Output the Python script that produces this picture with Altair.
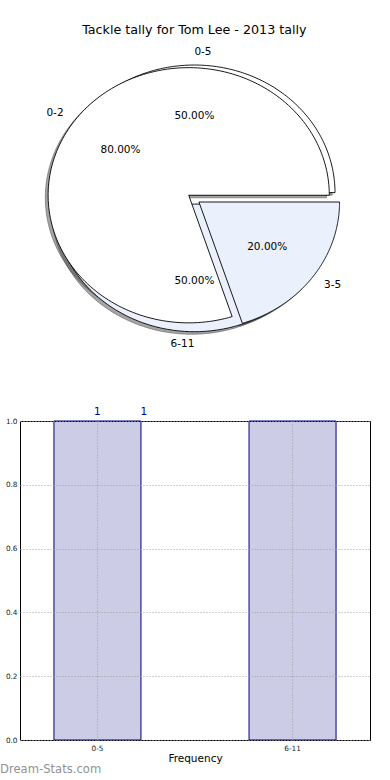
import altair as alt
import pandas as pd

# ---------------- data ----------------
title_text = "Tackle tally for Tom Lee - 2013 tally"
back_labels = ["0-5", "6-11"]
back_values = [1, 1]
front_labels = ["0-2", "3-5"]
front_values = [4, 1]
bar_categories = ["0-5", "6-11"]
bar_values = [1, 1]
y_ticks = [0.0, 0.2, 0.4, 0.6, 0.8, 1.0]
x_title = "Frequency"
watermark = "Dream-Stats.com"

# ---------------- styles ----------------
FONT = "DejaVu Sans"
tones = ["first", "second"]
slice_colors = ["#ffffff", "#eaf0fc"]
back_explode = [0.05, 0.04]
front_explode = [0.05, 0.04]
N = 180  # points along each wedge arc

# page geometry (pixels)
OX, OY = 20, 421          # plot-area origin of the bar chart
CX, CY = 194.4, 199.0     # pie centre
RX, RY = 140.6, 127.6     # pie radii (matplotlib non-equal aspect -> ellipse)

rows = []
for i, (l, v, e) in enumerate(zip(back_labels, back_values, back_explode)):
    rows.append(dict(pie=0, idx=i, label=l, value=v, explode=e, tone=tones[i]))
for i, (l, v, e) in enumerate(zip(front_labels, front_values, front_explode)):
    rows.append(dict(pie=1, idx=i, label=l, value=v, explode=e, tone=tones[i]))
pie_df = pd.DataFrame(rows)

xs = alt.Scale(domain=[-1, 1], range=[CX - RX - OX, CX + RX - OX], nice=False, zero=False)
ys = alt.Scale(domain=[-1, 1], range=[CY + RY - OY, CY - RY - OY], nice=False, zero=False)

base = (
    alt.Chart(pie_df)
    .transform_joinaggregate(total="sum(value)", groupby=["pie"])
    .transform_window(cum="sum(value)", groupby=["pie"], sort=[alt.SortField("idx")], frame=[None, 0])
    .transform_calculate(a0="2*PI*(datum.cum - datum.value)/datum.total")
    .transform_calculate(a1="2*PI*datum.cum/datum.total")
    .transform_calculate(mid="(datum.a0 + datum.a1)/2")
    .transform_calculate(ux="cos(datum.mid)", uy="sin(datum.mid)")
)


def wedge_points(chart, off):
    return (
        chart.transform_calculate(k=f"sequence(0, {N + 2})")
        .transform_flatten(["k"])
        .transform_calculate(t=f"datum.a0 + (datum.a1 - datum.a0) * (datum.k - 1) / {N}")
        .transform_calculate(
            px=f"datum.explode*datum.ux + (datum.k == 0 ? 0 : cos(datum.t)) + ({off})",
            py=f"datum.explode*datum.uy + (datum.k == 0 ? 0 : sin(datum.t)) + ({off})",
        )
    )


fill_enc = alt.Fill("tone:N", scale=alt.Scale(domain=tones, range=slice_colors), legend=None)

shadow = wedge_points(base, -0.02).mark_line(
    interpolate="linear-closed", fill="#4c4c4c", fillOpacity=0.5,
    stroke="#4c4c4c", strokeOpacity=0.5, strokeWidth=1,
).encode(
    x=alt.X("px:Q", scale=xs, axis=None),
    y=alt.Y("py:Q", scale=ys, axis=None),
    order="k:Q",
    detail="label:N",
)


def pie_layer(p):
    return wedge_points(base.transform_filter(f"datum.pie == {p}"), 0).mark_line(
        interpolate="linear-closed", stroke="black", strokeWidth=0.9,
    ).encode(
        x=alt.X("px:Q", scale=xs, axis=None),
        y=alt.Y("py:Q", scale=ys, axis=None),
        order="k:Q",
        detail="label:N",
        fill=fill_enc,
    )


back = pie_layer(0)
front = pie_layer(1)

lab = base.transform_calculate(
    lx="(datum.explode + 1.1) * datum.ux",
    ly="(datum.explode + 1.1) * datum.uy",
    qx="(datum.explode + 0.6) * datum.ux",
    qy="(datum.explode + 0.6) * datum.uy",
    pct="format(100*datum.value/datum.total, '.2f') + '%'",
)
txt = dict(font=FONT, fontSize=10.5, color="black", baseline="middle")
lab_left = lab.transform_filter("datum.ux > 0").mark_text(align="left", **txt).encode(
    x=alt.X("lx:Q", scale=xs, axis=None), y=alt.Y("ly:Q", scale=ys, axis=None), text="label:N")
lab_right = lab.transform_filter("datum.ux <= 0").mark_text(align="right", **txt).encode(
    x=alt.X("lx:Q", scale=xs, axis=None), y=alt.Y("ly:Q", scale=ys, axis=None), text="label:N")
lab_pct = lab.mark_text(align="center", **txt).encode(
    x=alt.X("qx:Q", scale=xs, axis=None), y=alt.Y("qy:Q", scale=ys, axis=None), text="pct:N")

pie_group = alt.layer(shadow, back, front, lab_left, lab_right, lab_pct)

# ---------------- bar chart ----------------
bar_df = pd.DataFrame({"cat": bar_categories, "freq": bar_values})

grid = dict(grid=True, gridColor="#a0a0a0", gridDash=[1, 2], gridWidth=1, zindex=1)
x_axis = alt.Axis(
    title=x_title, orient="bottom", labelFont=FONT, labelFontSize=7.3, labelColor="#222222",
    labelAngle=0, labelPadding=4, ticks=False, domain=False, titleFont=FONT,
    titleFontSize=10.5, titleFontWeight="normal", titleColor="black", titlePadding=2,
    bandPosition=0.5, **grid,
)
y_axis = alt.Axis(
    title=None, orient="left", values=y_ticks, format=".1f", labelFont=FONT, labelFontSize=7.3,
    labelColor="#222222", labelPadding=3, ticks=False, domain=False, labelFlush=False,
    labelOverlap=False, **grid,
)
xb_scale = alt.Scale(domain=bar_categories, paddingInner=0.554, paddingOuter=0.174)
yb_scale = alt.Scale(domain=[0, 1], nice=False, zero=True)

bars = alt.Chart(bar_df).mark_bar(
    fill="#000080", fillOpacity=0.2, stroke="#000080", strokeWidth=1
).encode(
    x=alt.X("cat:N", scale=xb_scale, axis=x_axis),
    y=alt.Y("freq:Q", scale=yb_scale, axis=y_axis),
)

btxt = dict(font=FONT, fontSize=10.5, color="#000080", baseline="middle", align="center", dy=-9)
bar_lab1 = alt.Chart(bar_df).transform_filter(
    f"datum.cat == '{bar_categories[0]}'"
).mark_text(**btxt).encode(
    x=alt.X("cat:N", scale=xb_scale, axis=x_axis, bandPosition=0.5),
    y=alt.Y("freq:Q", scale=yb_scale, axis=y_axis),
    text="freq:Q",
)
bar_lab2 = alt.Chart(bar_df).transform_filter(
    f"datum.cat == '{bar_categories[1]}'"
).transform_calculate(anchor=f"'{bar_categories[0]}'").mark_text(dx=3, **btxt).encode(
    x=alt.X("anchor:N", scale=xb_scale, axis=x_axis, bandPosition=1.0),
    y=alt.Y("freq:Q", scale=yb_scale, axis=y_axis),
    text="freq:Q",
)

bar_group = alt.layer(bars, bar_lab1, bar_lab2)

# ---------------- title / watermark ----------------
title = alt.Chart(pd.DataFrame({"t": [title_text]})).mark_text(
    font=FONT, fontSize=12.7, color="black", align="center", baseline="middle"
).encode(text="t:N", x=alt.value(CX - OX), y=alt.value(30 - OY))

wm = alt.Chart(pd.DataFrame({"t": [watermark]})).mark_text(
    font=FONT, fontSize=11.6, color="#929292", align="left", baseline="middle"
).encode(text="t:N", x=alt.value(-OX), y=alt.value(770 - OY))

chart = (
    alt.layer(pie_group, title, bar_group, wm)
    .resolve_scale(x="independent", y="independent")
    .properties(
        width=350,
        height=319,
        padding={"left": OX, "top": OY, "right": 20, "bottom": 40},
        autosize=alt.AutoSizeParams(type="none"),
    )
    .configure_view(stroke="black", strokeWidth=1)
)

chart.save("out.html", embed_options={"renderer": "svg", "actions": False})
